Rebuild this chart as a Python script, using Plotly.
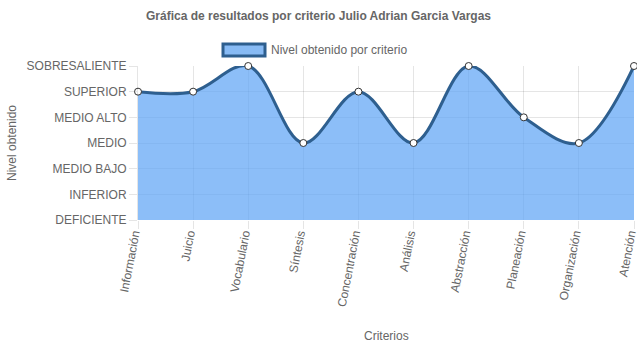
import plotly.graph_objects as go

categories = ["Información", "Juicio", "Vocabulario", "Síntesis", "Concentración",
              "Análisis", "Abstracción", "Planeación", "Organización", "Atención"]
values = [5, 5, 6, 3, 5, 3, 6, 4, 3, 6]
level_vals = [0, 1, 2, 3, 4, 5, 6]
level_labels = ["DEFICIENTE", "INFERIOR", "MEDIO BAJO", "MEDIO", "MEDIO ALTO", "SUPERIOR", "SOBRESALIENTE"]

FONT = "Liberation Sans, Arial, sans-serif"
GRAY = "#666666"
LINE = "#2e5f8f"
FILL = "rgba(95,165,245,0.72)"

fig = go.Figure()
fig.add_trace(go.Scatter(
    x=categories, y=values, mode="lines+markers",
    line=dict(color=LINE, width=3, shape="spline", smoothing=1.0),
    fill="tozeroy", fillcolor=FILL,
    marker=dict(size=7, color="white", line=dict(color="#333333", width=1)),
    cliponaxis=False, showlegend=False, name="Nivel obtenido por criterio"))

fig.update_layout(
    width=637, height=348,
    margin=dict(l=138, r=3, t=66, b=128),
    paper_bgcolor="white", plot_bgcolor="white",
    font=dict(family=FONT, size=12, color=GRAY),
    title=dict(text="<b>Gráfica de resultados por criterio Julio Adrian Garcia Vargas</b>",
               x=0.5, xref="container", xanchor="center", y=1 - 16 / 348, yref="container",
               yanchor="middle", font=dict(size=12, color=GRAY, family=FONT)),
    xaxis=dict(
        type="category", range=[0, len(categories) - 1], automargin=False,
        showgrid=True, gridcolor="rgba(0,0,0,0.1)", gridwidth=1,
        ticks="outside", ticklen=8, tickcolor="rgba(0,0,0,0.1)",
        ticklabelstandoff=-7, ticklabelshift=-4,
        tickangle=-79, tickfont=dict(size=12, color=GRAY, family=FONT),
        showline=False, zeroline=False),
    yaxis=dict(
        range=[0, 6], tickvals=level_vals, ticktext=level_labels, automargin=False,
        showgrid=True, gridcolor="rgba(0,0,0,0.1)", gridwidth=1,
        ticks="outside", ticklen=8, tickcolor="rgba(0,0,0,0.1)",
        tickfont=dict(size=12, color=GRAY, family=FONT),
        showline=True, linecolor="rgba(0,0,0,0.1)", zeroline=False),
)

# axis titles
fig.add_annotation(text="Criterios", xref="paper", yref="paper",
                   x=0.5, y=(220 - 336) / 154, xanchor="center", yanchor="middle",
                   showarrow=False, font=dict(size=12, color=GRAY, family=FONT))
fig.add_annotation(text="Nivel obtenido", xref="paper", yref="paper",
                   x=(12 - 138) / 496, y=(220 - 143) / 154, xanchor="center", yanchor="middle",
                   textangle=-90, showarrow=False, font=dict(size=12, color=GRAY, family=FONT))

# legend drawn as a box + text
fig.add_shape(type="rect", xref="paper", yref="paper",
              x0=(223 - 138) / 496, x1=(265 - 138) / 496,
              y0=(220 - 44) / 154, y1=(220 - 56) / 154,
              fillcolor="#88bbf5", line=dict(color=LINE, width=3))
fig.add_annotation(text="Nivel obtenido por criterio", xref="paper", yref="paper",
                   x=(269 - 138) / 496, y=(220 - 50) / 154, xanchor="left", yanchor="middle",
                   showarrow=False, font=dict(size=12, color=GRAY, family=FONT))

fig.write_html("out.html")
